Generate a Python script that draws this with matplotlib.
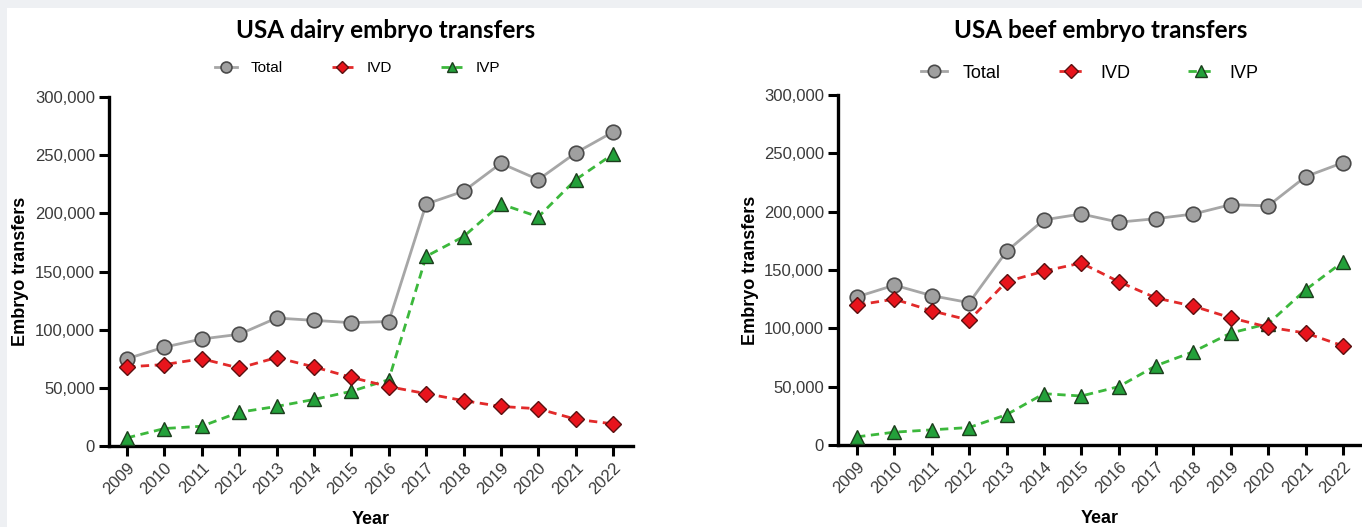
import matplotlib
matplotlib.use("Agg")
import matplotlib.pyplot as plt
from matplotlib.patches import Rectangle
from matplotlib.ticker import FuncFormatter

years = list(range(2009, 2023))

# dairy embryo transfers
dairy_total = [75000, 85000, 92000, 96000, 110000, 108000, 106000, 107000,
               208000, 219000, 243000, 229000, 252000, 270000]
dairy_ivd = [68000, 70000, 75000, 67000, 76000, 68000, 59000, 51000,
             45000, 39000, 34000, 32000, 23000, 19000]
dairy_ivp = [7000, 15000, 17000, 29000, 34000, 40000, 47000, 57000,
             163000, 180000, 208000, 197000, 229000, 251000]

# beef embryo transfers
beef_total = [127000, 137000, 128000, 122000, 166000, 193000, 198000, 191000,
              194000, 198000, 206000, 205000, 230000, 242000]
beef_ivd = [120000, 125000, 115000, 107000, 140000, 149000, 156000, 140000,
            126000, 119000, 109000, 101000, 96000, 85000]
beef_ivp = [7000, 11000, 13000, 15000, 26000, 44000, 42000, 50000,
            68000, 80000, 96000, 104000, 133000, 157000]

yticks = [0, 50000, 100000, 150000, 200000, 250000, 300000]

plt.rcParams['font.family'] = ['Liberation Sans', 'DejaVu Sans']

fig = plt.figure(figsize=(13.62, 5.27), dpi=100, facecolor="#eef0f3")
fig.patches.append(Rectangle((7 / 1362, 0), 1, 1 - 8 / 527, transform=fig.transFigure,
                             facecolor="white", edgecolor="none", zorder=-1))

ax1 = fig.add_axes([109 / 1362, 1 - 446 / 527, 524 / 1362, 349 / 527])
ax2 = fig.add_axes([838 / 1362, 1 - 445 / 527, 524 / 1362, 350 / 527])


def draw(ax, total, ivd, ivp, xlim):
    ax.set_facecolor("none")
    h_tot, = ax.plot(years, total, "-o", color="#a6a6a6", lw=2, ms=10.5,
                     mfc="#a0a0a0", mec="#4a4a4a", mew=1.2, label="Total", zorder=3)
    h_ivp, = ax.plot(years, ivp, "--^", color="#3cb83c", lw=2, ms=10, dashes=(3, 2),
                     mfc="#23a03a", mec="#1c3d1c", mew=1.0, label="IVP", zorder=4)
    h_ivd, = ax.plot(years, ivd, "--D", color="#e22a2a", lw=2, ms=8, dashes=(3, 2),
                     mfc="#e8141c", mec="#5a1010", mew=1.0, label="IVD", zorder=5)
    ax.set_xlim(*xlim)
    ax.set_ylim(0, 300000)
    ax.set_yticks(yticks)
    ax.yaxis.set_major_formatter(FuncFormatter(lambda v, p: f"{int(v):,}"))
    ax.set_xticks(years)
    ax.set_xticklabels([str(y) for y in years], rotation=45, ha="right",
                       rotation_mode="anchor")
    for s in ["top", "right"]:
        ax.spines[s].set_visible(False)
    for s in ["left", "bottom"]:
        ax.spines[s].set_linewidth(2.4)
        ax.spines[s].set_color("black")
    ax.tick_params(axis="both", length=7, width=2.2, color="black",
                   labelsize=12, labelcolor="#3a3a3a", pad=3)
    ax.set_ylabel("Embryo transfers", fontsize=13, fontweight="bold")
    ax.set_xlabel("Year", fontsize=13, fontweight="bold")
    ax.xaxis.set_label_coords(0.5, -0.185)
    return [h_tot, h_ivd, h_ivp]


handles1 = draw(ax1, dairy_total, dairy_ivd, dairy_ivp, (2008.52, 2022.53))
handles2 = draw(ax2, beef_total, beef_ivd, beef_ivp, (2008.49, 2022.51))
ax1.yaxis.set_label_coords(-0.152, 0.5)
ax2.yaxis.set_label_coords(-0.151, 0.5)

fig.text(386 / 1362, 1 - 30 / 527, "USA dairy embryo transfers", ha="center", va="center",
         fontsize=17.5, fontweight="bold", family="Lato")
fig.text(1101 / 1362, 1 - 30 / 527, "USA beef embryo transfers", ha="center", va="center",
         fontsize=17.5, fontweight="bold", family="Lato")

fig.legend(handles=handles1, loc="center", bbox_to_anchor=(358 / 1362, 1 - 68 / 527),
           ncol=3, frameon=False, fontsize=11, markerscale=0.75, handlelength=1.4,
           columnspacing=3.2, handletextpad=0.9)
fig.legend(handles=handles2, loc="center", bbox_to_anchor=(1090 / 1362, 1 - 73 / 527),
           ncol=3, frameon=False, fontsize=13, markerscale=0.85, handlelength=1.4,
           columnspacing=3.2, handletextpad=0.9)

fig.savefig("out.png", dpi=100, facecolor=fig.get_facecolor())
